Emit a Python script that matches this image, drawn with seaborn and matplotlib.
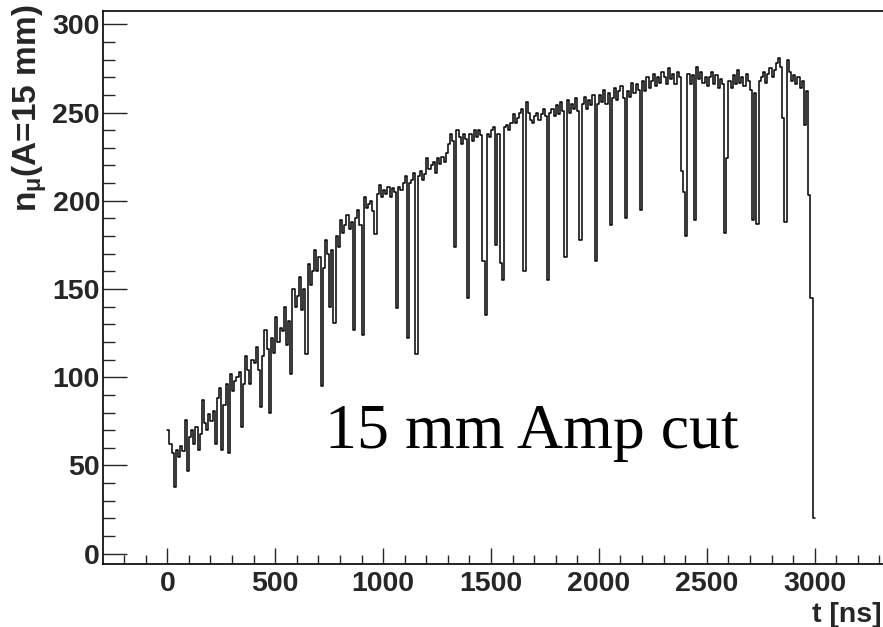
import numpy as np
import pandas as pd
import matplotlib
matplotlib.use("Agg")
import matplotlib.pyplot as plt
from matplotlib.ticker import MultipleLocator
import seaborn as sns

# ---- data (10 ns bins from 0 to 3000 ns) ----
bin_width = 10
counts = [
    70, 62, 57, 38, 59, 55, 61, 58, 76, 47,
    66, 70, 62, 72, 59, 68, 87, 74, 70, 79,
    75, 81, 62, 88, 94, 59, 84, 96, 57, 102,
    92, 98, 100, 103, 72, 96, 112, 104, 96, 110,
    108, 117, 104, 83, 112, 127, 116, 80, 122, 114,
    134, 120, 128, 126, 140, 118, 132, 102, 150, 140,
    146, 157, 138, 150, 113, 164, 152, 160, 172, 160,
    168, 95, 162, 178, 170, 140, 172, 131, 180, 174,
    189, 182, 186, 192, 184, 188, 127, 190, 195, 186,
    124, 202, 196, 198, 200, 194, 181, 204, 209, 202,
    206, 204, 208, 202, 207, 205, 139, 208, 206, 210,
    214, 122, 210, 212, 216, 113, 214, 217, 212, 215,
    224, 218, 220, 222, 216, 224, 221, 225, 222, 227,
    232, 238, 234, 174, 240, 236, 232, 238, 235, 145,
    238, 234, 240, 236, 240, 237, 166, 135, 238, 236,
    240, 242, 175, 238, 165, 155, 242, 243, 240, 244,
    249, 244, 247, 250, 252, 160, 256, 250, 246, 244,
    248, 250, 246, 249, 252, 248, 155, 250, 252, 248,
    254, 249, 256, 251, 168, 257, 250, 255, 252, 258,
    251, 178, 255, 259, 252, 257, 254, 260, 166, 255,
    260, 256, 263, 255, 261, 186, 258, 264, 257, 262,
    265, 258, 190, 262, 259, 267, 261, 266, 263, 195,
    268, 262, 270, 264, 268, 272, 265, 270, 267, 273,
    270, 266, 275, 269, 272, 266, 273, 270, 217, 205,
    180, 272, 266, 271, 189, 276, 269, 273, 267, 270,
    265, 270, 273, 266, 271, 264, 269, 266, 182, 224,
    268, 264, 271, 266, 274, 267, 270, 265, 272, 268,
    263, 189, 261, 187, 268, 270, 273, 267, 272, 275,
    270, 274, 278, 281, 276, 247, 188, 280, 273, 268,
    271, 266, 270, 264, 268, 243, 262, 203, 145, 20,
]
x_label = "t [ns]"
y_label = r"$n_{\mu}$(A=15 mm)"
annotation = "15 mm Amp cut"
x_ticks = [0, 500, 1000, 1500, 2000, 2500, 3000]
y_ticks = [0, 50, 100, 150, 200, 250, 300]

n_bins = len(counts)
t_centers = [(i + 0.5) * bin_width for i in range(n_bins)]
df = pd.DataFrame({"t": t_centers, "n": counts})

# ---- style ----
sns.set_style("ticks")
plt.rcParams["font.family"] = ["Liberation Sans", "DejaVu Sans"]
plt.rcParams["font.weight"] = "bold"
plt.rcParams["mathtext.fontset"] = "custom"
plt.rcParams["mathtext.rm"] = "Liberation Sans:bold"
plt.rcParams["mathtext.it"] = "Liberation Sans:bold"
plt.rcParams["mathtext.bf"] = "Liberation Sans:bold"

W, H = 883, 627
fig = plt.figure(figsize=(W / 100, H / 100), dpi=100)
fig.patch.set_facecolor("white")

# axes box: left spine at 102.7 px, top at 10.7 px, bottom at 563.7 px,
# runs to the right edge of the picture (as in the cropped reference)
x0_px, xtop_px, xbot_px = 102.7, 10.7, 563.7
px_per_ns = 0.2158
zero_px = 167.3
xmin = (x0_px - zero_px) / px_per_ns
xmax = (W - zero_px) / px_per_ns
ax = fig.add_axes([x0_px / W, 1 - xbot_px / H, (W - x0_px) / W, (xbot_px - xtop_px) / H])
ax.set_facecolor("white")

sns.histplot(data=df, x="t", weights="n", binwidth=bin_width,
             binrange=(0, n_bins * bin_width), element="step", fill=False,
             color="black", linewidth=1.1, ax=ax)

ax.set_xlim(xmin, xmax)
ax.set_ylim(-5.67, 307.7)
ax.set_xticks(x_ticks)
ax.set_yticks(y_ticks)
ax.xaxis.set_minor_locator(MultipleLocator(100))
ax.yaxis.set_minor_locator(MultipleLocator(10))
ax.set_xlabel("")
ax.set_ylabel("")

for s in ["left", "bottom", "top"]:
    ax.spines[s].set_linewidth(1.2)
    ax.spines[s].set_color("black")
ax.spines["right"].set_visible(False)

ax.tick_params(axis="x", which="major", direction="in", length=11.5, width=1.0,
               labelsize=20.5, pad=5, top=False, bottom=True)
ax.tick_params(axis="x", which="minor", direction="in", length=6.5, width=1.0, top=False)
ax.tick_params(axis="y", which="major", direction="in", length=17.3, width=1.0,
               labelsize=20.5, pad=2, right=False)
ax.tick_params(axis="y", which="minor", direction="in", length=8.6, width=1.0, right=False)
for lab in ax.get_xticklabels() + ax.get_yticklabels():
    lab.set_fontweight("bold")
    lab.set_family(["Liberation Sans", "DejaVu Sans"])

fig.text(30 / W, 1 - 5 / H, y_label, rotation=90, ha="center", va="top",
         fontsize=24, fontweight="bold")
fig.text(1 - 1 / W, 1 - 615 / H, x_label, ha="right", va="center",
         fontsize=20.5, fontweight="bold")
fig.text(325 / W, 1 - 448 / H, annotation, ha="left", va="baseline",
         fontsize=46, family=["Liberation Serif", "DejaVu Serif"], fontweight="normal",
         color="black")

fig.savefig("out.png", dpi=100)
